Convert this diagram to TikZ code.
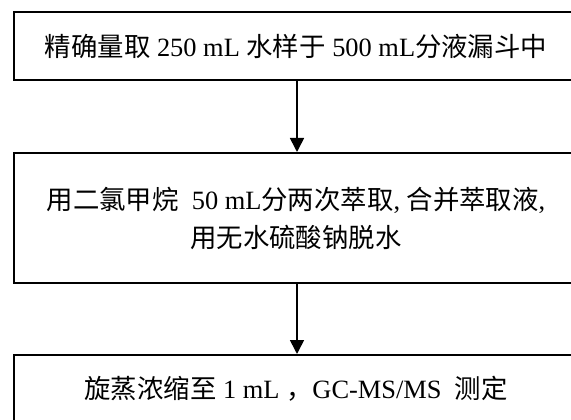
\documentclass[tikz,border=0pt]{standalone}
\usepackage{fontspec}
\setmainfont{Liberation Serif}
\newfontfamily\zh{Noto Sans CJK SC}
\usetikzlibrary{arrows.meta}
\tikzset{
  box/.style={draw=black, line width=2pt, rectangle, minimum width=564pt, inner sep=0pt, align=center,
    font=\fontsize{26.4}{38}\selectfont},
  flow/.style={draw=black, line width=1.6pt, -{Triangle[length=14pt,width=14pt]}}
}
\begin{document}
\begin{tikzpicture}[x=1pt,y=-1pt]
\useasboundingbox (0,0) rectangle (571,420);
\clip (0,0) rectangle (571,420);
\node[box, minimum height=68pt] (b1) at (296,46) {{\zh 精确量取} 250 mL {\zh 水样于} 500 mL{\zh 分液漏斗中}};
\node[box, minimum height=130pt] (b2) at (296,218) {{\zh 用二氯甲烷}\ \ 50 mL{\zh 分两次萃取}, {\zh 合并萃取液}, \\ {\zh 用无水硫酸钠脱水}};
\node[box, minimum height=68pt] (b3) at (296,389) {{\zh 旋蒸浓缩至} 1 mL {\zh ，}GC-MS/MS\ \ {\zh 测定}};
\draw[flow] (b1.south -| 297,0) -- (b2.north -| 297,0);
\draw[flow] (b2.south -| 297,0) -- (b3.north -| 297,0);
\end{tikzpicture}
\end{document}
